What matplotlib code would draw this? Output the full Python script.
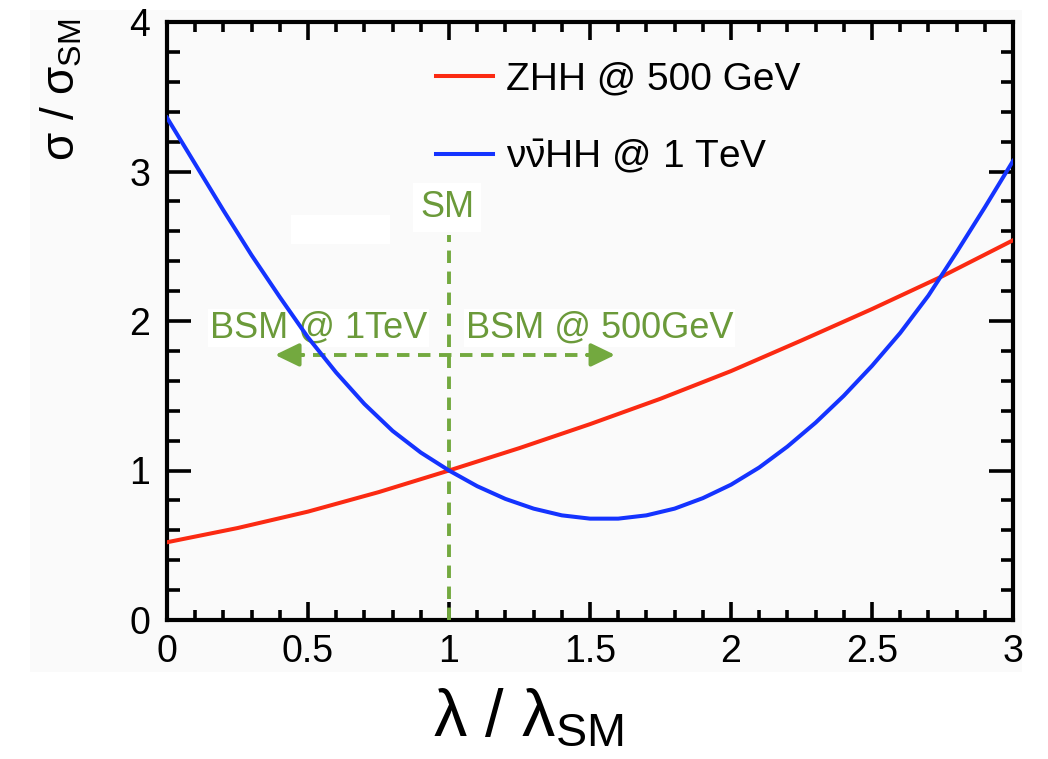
import matplotlib
matplotlib.use("Agg")
import matplotlib.pyplot as plt
from matplotlib.patches import Rectangle
from matplotlib.ticker import MultipleLocator

plt.rcParams['font.family'] = ['Liberation Sans', 'DejaVu Sans']
plt.rcParams['mathtext.fontset'] = 'custom'
plt.rcParams['mathtext.rm'] = 'Liberation Sans'
plt.rcParams['mathtext.it'] = 'Liberation Sans'
plt.rcParams['mathtext.bf'] = 'Liberation Sans:bold'

# cross section ratio vs Higgs self-coupling ratio
lam_zhh = [0.0, 0.25, 0.5, 0.75, 1.0, 1.25, 1.5, 1.75, 2.0, 2.25, 2.5, 2.75, 3.0]
xs_zhh = [0.52, 0.615, 0.725, 0.855, 1.0, 1.15, 1.31, 1.48, 1.665, 1.87, 2.08, 2.30, 2.54]

lam_vvhh = [0.0, 0.1, 0.2, 0.3, 0.4, 0.5, 0.6, 0.7, 0.8, 0.9, 1.0,
            1.1, 1.2, 1.3, 1.4, 1.5, 1.6, 1.7, 1.8, 1.9, 2.0,
            2.1, 2.2, 2.3, 2.4, 2.5, 2.6, 2.7, 2.8, 2.9, 3.0]
xs_vvhh = [3.36, 3.05, 2.74, 2.44, 2.16, 1.89, 1.655, 1.445, 1.265, 1.12, 1.00,
           0.895, 0.81, 0.745, 0.70, 0.678, 0.678, 0.70, 0.745, 0.815, 0.905,
           1.02, 1.16, 1.32, 1.50, 1.70, 1.92, 2.17, 2.46, 2.76, 3.07]

sm_lambda = 1.0
sm_line_top = 2.575
bsm_arrow_y = 1.773
bsm_1tev_end = 0.383
bsm_500_end = 1.589

red = '#fb2a12'
blue = '#1433ff'
green_txt = '#6b9a3a'
green = '#73a93f'
bg = '#fafafa'

fig = plt.figure(figsize=(10.48, 7.59), dpi=100)
fig.patches.append(Rectangle((30 / 1048, 1 - 672 / 759), 992 / 1048, 662 / 759,
                             transform=fig.transFigure, facecolor=bg,
                             edgecolor='none', zorder=-10))
ax = fig.add_axes([167 / 1048, 1 - 620 / 759, 846 / 1048, 598 / 759])
ax.set_facecolor(bg)

ax.plot(lam_zhh, xs_zhh, color=red, lw=2.9, label='ZHH @ 500 GeV', zorder=4)
ax.plot(lam_vvhh, xs_vvhh, color=blue, lw=2.9,
        label=r'$\nu\bar{\nu}$HH @ 1 TeV', zorder=4)

# SM marker and BSM arrows
ax.plot([sm_lambda, sm_lambda], [0, sm_line_top], color=green, lw=2.8,
        ls=(0, (3.2, 2.2)), zorder=3)
ax.plot([bsm_1tev_end + 0.06, bsm_500_end - 0.06], [bsm_arrow_y, bsm_arrow_y],
        color=green, lw=2.8, ls=(0, (3.2, 2.2)), zorder=3)
for tip, tail in [(bsm_1tev_end, bsm_1tev_end + 0.1), (bsm_500_end, bsm_500_end - 0.1)]:
    ax.annotate('', xy=(tip, bsm_arrow_y), xytext=(tail, bsm_arrow_y),
                arrowprops=dict(arrowstyle='-|>,head_length=1.45,head_width=0.7',
                                color=green, lw=2.8, shrinkA=0, shrinkB=0),
                zorder=3)

ax.add_patch(Rectangle((0.44, 2.515), 0.35, 0.195, facecolor='white',
                       edgecolor='none', zorder=1))
ax.text(0.993, 2.76, 'SM', color=green_txt, fontsize=26, ha='center', va='center',
        bbox=dict(facecolor='white', edgecolor='none', pad=5), zorder=2)
ax.text(0.537, 1.953, 'BSM @ 1TeV', color=green_txt, fontsize=26, ha='center',
        va='center', bbox=dict(facecolor='white', edgecolor='none', pad=1), zorder=2)
ax.text(1.534, 1.953, 'BSM @ 500GeV', color=green_txt, fontsize=26, ha='center',
        va='center', bbox=dict(facecolor='white', edgecolor='none', pad=1), zorder=2)

ax.set_xlim(0, 3)
ax.set_ylim(0, 4)
ax.xaxis.set_major_locator(MultipleLocator(0.5))
ax.xaxis.set_minor_locator(MultipleLocator(0.1))
ax.yaxis.set_major_locator(MultipleLocator(1))
ax.yaxis.set_minor_locator(MultipleLocator(0.2))
ax.set_xticks([0, 0.5, 1, 1.5, 2, 2.5, 3])
ax.set_xticklabels(['0', '0.5', '1', '1.5', '2', '2.5', '3'])
ax.tick_params(which='both', direction='in', top=True, right=True, width=2.6,
               labelsize=27, colors='black')
ax.tick_params(axis='x', which='major', length=13, pad=10)
ax.tick_params(axis='x', which='minor', length=7)
ax.tick_params(axis='y', which='major', length=17, pad=12)
ax.tick_params(axis='y', which='minor', length=9)
for s in ax.spines.values():
    s.set_linewidth(3.0)

ax.legend(loc='upper left', bbox_to_anchor=(0.3, 0.96), frameon=False,
          fontsize=28, handlelength=1.45, handletextpad=0.35, labelspacing=1.05,
          borderaxespad=0)

fig.text(62 / 1048, 1 - 90 / 759, r'$\sigma\ /\ \sigma_{\rm SM}$', rotation=90,
         ha='center', va='center', fontsize=33)
fig.text(528 / 1048, 1 - 718 / 759, r'$\lambda\ /\ \lambda_{\rm SM}$',
         ha='center', va='center', fontsize=48)

fig.savefig('out.png', dpi=100, facecolor='white')
